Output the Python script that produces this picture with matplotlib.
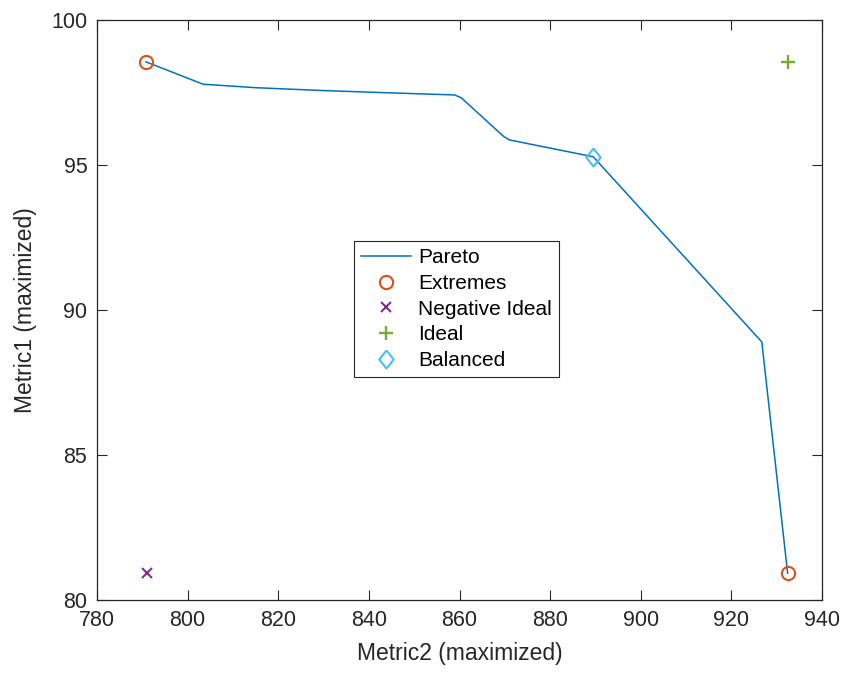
import matplotlib.pyplot as plt
import numpy as np

plt.rcParams['font.family'] = ['Liberation Sans', 'DejaVu Sans']

# Pareto front (Metric2, Metric1)
pareto_x = [790.8, 803.4, 815.0, 830.0, 845.0, 858.9, 860.4, 869.8, 871.0, 889.5, 926.7, 932.4]
pareto_y = [98.55, 97.78, 97.66, 97.56, 97.48, 97.41, 97.31, 95.97, 95.86, 95.28, 88.90, 80.93]

extremes_x = [790.8, 932.4]
extremes_y = [98.55, 80.93]
neg_ideal = (791.0, 80.93)
ideal = (932.4, 98.55)
balanced = (889.5, 95.28)

txt = '#262626'
diamond = [(0, 1), (0.8, 0), (0, -1), (-0.8, 0), (0, 1)]

fig = plt.figure(figsize=(8.46, 6.82), dpi=100)
ax = fig.add_axes([0.1147, 0.12, 0.857, 0.851])

ax.plot(pareto_x, pareto_y, color='#0072BD', lw=1.1, label='Pareto')
ax.plot(extremes_x, extremes_y, 'o', mfc='none', mec='#D95319', ms=9.5, mew=1.5, label='Extremes')
ax.plot(*neg_ideal, 'x', color='#7E2F8E', ms=7.5, mew=1.5, label='Negative Ideal')
ax.plot(*ideal, '+', color='#77AC30', ms=10, mew=1.7, label='Ideal')
ax.plot(*balanced, marker=diamond, ls='none', mfc='none', mec='#4DBEEE', ms=13, mew=1.5, label='Balanced')

ax.set_xlim(780, 940)
ax.set_ylim(80, 100)
ax.set_xticks(np.arange(780, 941, 20))
ax.set_yticks(np.arange(80, 101, 5))
ax.tick_params(direction='in', top=True, right=True, length=7, width=0.8,
               colors=txt, labelsize=15.5, pad=7)
for s in ax.spines.values():
    s.set_color(txt)
    s.set_linewidth(0.9)

ax.set_xlabel('Metric2 (maximized)', fontsize=16.5, color=txt, labelpad=8)
ax.set_ylabel('Metric1 (maximized)', fontsize=16.5, color=txt, labelpad=10)

leg = ax.legend(loc='lower left', bbox_to_anchor=(0.354, 0.384), borderaxespad=0,
                fontsize=15, fancybox=False, framealpha=1, edgecolor=txt,
                handlelength=2.4, handletextpad=0.35, labelspacing=0.32,
                borderpad=0.35)
leg.get_frame().set_linewidth(0.8)
for t in leg.get_texts():
    t.set_color('black')

fig.savefig('out.png', dpi=100)
